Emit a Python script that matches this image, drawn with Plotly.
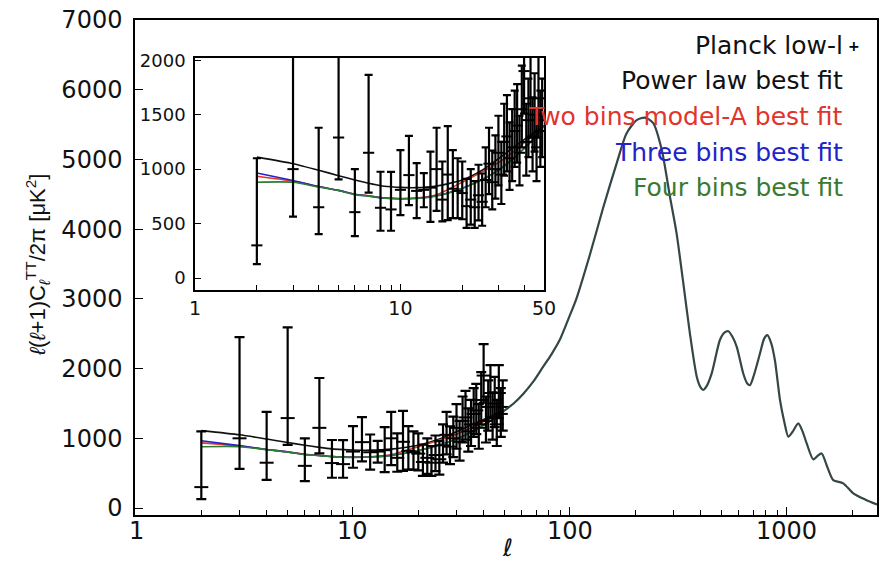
import math
import plotly.graph_objects as go

# ---------------- data ----------------
ell_data = list(range(2, 50))
dl_data = [300, 1000, 650, 1290, 605, 1150, 645, 630, 810, 945, 800, 810, 830, 1000,
           720, 950, 820, 800, 780, 660, 720, 650, 760, 700, 900, 1050, 880, 1000,
           1150, 950, 1250, 1300, 1100, 1200, 1350, 1400, 1150, 1550, 1900, 1250,
           1450, 1650, 1300, 1500, 1200, 1650, 1350, 1450]
err_minus = [172, 437, 246, 385, 220, 366, 211, 196, 232, 275, 250, 160, 314, 384,
             200, 418, 270, 250, 240, 200, 230, 190, 230, 220, 250, 280, 250, 270,
             300, 270, 310, 320, 290, 310, 330, 340, 300, 350, 390, 310,
             340, 360, 320, 340, 310, 360, 330, 340]
err_plus = [800, 1450, 730, 1300, 395, 715, 331, 345, 364, 360, 255, 153, 330, 380,
            350, 444, 355, 300, 290, 250, 280, 240, 280, 260, 300, 330, 290, 310,
            340, 300, 350, 380, 330, 350, 370, 380, 340, 400, 450, 350,
            380, 400, 360, 380, 350, 400, 370, 380]

ell_lo = [2, 3, 4, 5, 6, 7, 8, 9, 10, 12, 15, 20, 25, 30, 35, 40, 45, 50]
power_law = [1110, 1050, 990, 940, 900, 870, 848, 838, 832, 830, 845, 900, 990, 1095, 1190, 1270, 1340, 1400]
two_bins_a = [935, 890, 840, 805, 770, 755, 740, 733, 730, 735, 765, 880, 975, 1060, 1150, 1240, 1320, 1400]
three_bins = [965, 895, 840, 805, 768, 753, 738, 731, 728, 732, 755, 825, 905, 990, 1090, 1190, 1290, 1400]
four_bins = [880, 880, 835, 803, 766, 752, 737, 730, 727, 731, 754, 823, 903, 988, 1088, 1188, 1288, 1400]

ell_hi = [50, 55, 61, 68, 75, 82, 90, 98, 107, 124, 142, 164, 182, 203, 222, 242, 265,
          289, 310, 333, 357, 384, 400, 411, 425, 450, 491, 515, 537, 560, 587, 629,
          655, 675, 700, 751, 785, 812, 845, 880, 929, 970, 1015, 1060, 1128, 1180,
          1233, 1322, 1380, 1445, 1530, 1634, 1817, 2021, 2300, 2600]
dl_hi = [1400, 1500, 1640, 1820, 2020, 2200, 2420, 2700, 3000, 3650, 4300, 4940, 5370,
         5565, 5600, 5520, 5135, 4465, 3940, 3223, 2506, 1884, 1730, 1693, 1740, 1932,
         2410, 2515, 2536, 2460, 2311, 1929, 1790, 1762, 1880, 2216, 2430, 2479, 2370,
         2120, 1547, 1250, 1022, 1090, 1213, 1100, 926, 697, 745, 783, 600, 401, 354,
         211, 120, 50]

main_x_ticks = [1, 10, 100, 1000]
main_x_labels = ["1", "10", "100", "1000"]
main_y_ticks = [0, 1000, 2000, 3000, 4000, 5000, 6000, 7000]
inset_x_ticks = [1, 10, 50]
inset_x_labels = ["1", "10", "50"]
inset_y_ticks = [0, 500, 1000, 1500, 2000]

legend_labels = ["Planck low-l", "Power law best fit", "Two bins model-A best fit",
                 "Three bins best fit", "Four bins best fit"]
legend_colors = ["#111111", "#111111", "#e0342c", "#2323c8", "#3a7a2e"]
model_colors = ["#111111", "#e0342c", "#2323c8", "#2e7d32"]
models = [power_law, two_bins_a, three_bins, four_bins]
common_color = "#344646"

FONT = "DejaVu Sans"

fig = go.Figure()

for xa, ya, capw in [("x", "y", 5), ("x2", "y2", 4)]:
    for vals, col in zip(models, model_colors):
        fig.add_trace(go.Scatter(x=ell_lo, y=vals, mode="lines", xaxis=xa, yaxis=ya,
                                 line=dict(color=col, width=1.6, shape="spline", smoothing=0.6),
                                 showlegend=False, hoverinfo="skip"))
    fig.add_trace(go.Scatter(
        x=ell_data, y=dl_data, mode="markers", xaxis=xa, yaxis=ya,
        marker=dict(symbol="line-ew", size=2 * capw, line=dict(width=2, color="black")),
        error_y=dict(type="data", symmetric=False, array=err_plus, arrayminus=err_minus,
                     color="black", thickness=2.2, width=capw),
        showlegend=False))

fig.add_trace(go.Scatter(x=ell_hi, y=dl_hi, mode="lines", xaxis="x", yaxis="y",
                         line=dict(color=common_color, width=2.2, shape="spline", smoothing=0.7),
                         showlegend=False))

axis_common = dict(showline=True, linecolor="black", linewidth=1.5, mirror=True,
                   showgrid=False, zeroline=False, ticks="inside", tickcolor="black",
                   tickwidth=1.3, automargin=False)

minor_main = [2, 3, 4, 5, 6, 7, 8, 9, 20, 30, 40, 50, 60, 70, 80, 90,
              200, 300, 400, 500, 600, 700, 800, 900, 2000]
minor_inset = [2, 3, 4, 5, 6, 7, 8, 9, 20, 30, 40]

fig.update_layout(
    template="none",
    width=881, height=565, autosize=False,
    margin=dict(l=135, r=4, t=20, b=50, pad=0),
    paper_bgcolor="white", plot_bgcolor="white",
    font=dict(family=FONT, color="#111111"),
    showlegend=False,
    xaxis=dict(type="log", range=[-0.0046, 3.415], tickvals=main_x_ticks,
               showticklabels=False, ticklen=8,
               minor=dict(tickvals=minor_main, ticks="inside", ticklen=5,
                          tickcolor="black", tickwidth=1.2, showgrid=False),
               **axis_common),
    yaxis=dict(range=[-100, 7000], tickvals=main_y_ticks,
               ticklen=8, tickfont=dict(size=24, family=FONT), ticklabelstandoff=6,
               **axis_common),
    xaxis2=dict(type="log", range=[0, 1.699], domain=[0.0809, 0.5512], anchor="y2",
                tickvals=inset_x_ticks, ticktext=inset_x_labels, ticklen=6,
                tickfont=dict(size=19, family=FONT),
                minor=dict(tickvals=minor_inset, ticks="inside", ticklen=5,
                           tickcolor="black", tickwidth=1.2, showgrid=False),
                **axis_common),
    yaxis2=dict(range=[-110, 2020], domain=[0.4545, 0.9232], anchor="x2",
                tickvals=inset_y_ticks, ticklen=6,
                tickfont=dict(size=18, family=FONT), ticklabelstandoff=4,
                **axis_common),
)

# main x tick labels (placed as annotations on the axis)
for v, lab in zip(main_x_ticks, main_x_labels):
    fig.add_annotation(xref="x", yref="paper", x=math.log10(v), y=(515 - 531) / 495,
                       text=lab, showarrow=False, xanchor="center", yanchor="middle",
                       font=dict(size=24, family=FONT, color="#111111"))

# legend as right-aligned text lines
leg_y = [45, 80, 116, 152, 188]
for lab, col, ypx in zip(legend_labels, legend_colors, leg_y):
    fig.add_annotation(xref="paper", yref="paper", x=(845 - 135) / 742, y=(515 - ypx) / 495,
                       text=lab, showarrow=False, xanchor="right", yanchor="middle",
                       font=dict(size=25, family=FONT, color=col))
fig.add_annotation(xref="paper", yref="paper", x=(854 - 135) / 742, y=(515 - 46) / 495,
                   text="<b>+</b>", showarrow=False, xanchor="center", yanchor="middle",
                   font=dict(size=14, family=FONT, color="#000000"))

# axis titles
fig.add_annotation(xref="paper", yref="paper", x=(37 - 135) / 742, y=(515 - 265) / 495,
                   text="<i>ℓ</i>(<i>ℓ</i>+1)C<sub><i>ℓ</i></sub><sup>TT</sup>/2π [μK<sup>2</sup>]",
                   textangle=-90, showarrow=False, xanchor="center", yanchor="middle",
                   font=dict(size=22, family="Liberation Sans", color="#111111"))
fig.add_annotation(xref="paper", yref="paper", x=(507 - 135) / 742, y=(515 - 548) / 495,
                   text="<i>ℓ</i>", showarrow=False, xanchor="center", yanchor="middle",
                   font=dict(size=24, family=FONT, color="#111111"))

fig.write_html("out.html")
